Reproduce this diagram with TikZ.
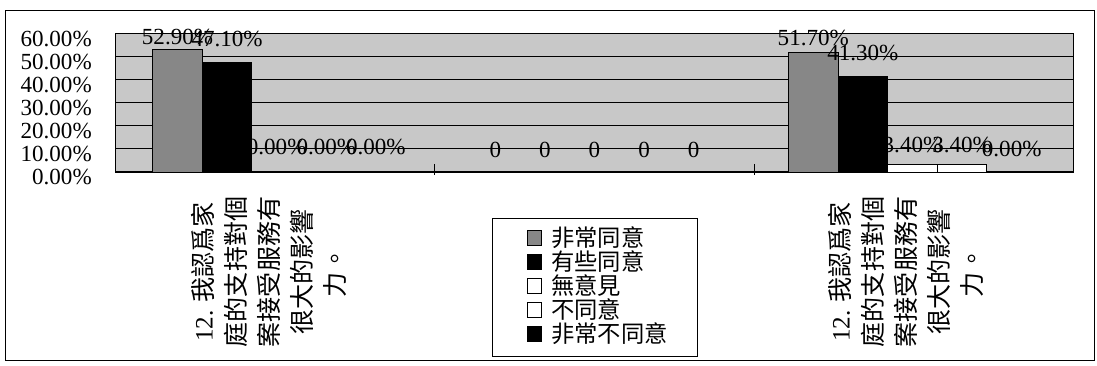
\documentclass[tikz,border=0pt]{standalone}
\usepackage{fontspec}
\setmainfont{Liberation Serif}
\newfontfamily\cjk{Noto Sans CJK TC}
\definecolor{plotbg}{RGB}{200,200,200}
\definecolor{barone}{RGB}{135,135,135}
\begin{document}
\begin{tikzpicture}[x=0.75pt,y=-0.75pt,
  num/.style={font=\fontsize{17.3pt}{17.3pt}\selectfont, inner sep=0pt, anchor=base},
  ylab/.style={num, anchor=base east},
  catlab/.style={font=\cjk\fontsize{18.8pt}{24.75pt}\selectfont, rotate=90, align=center, inner sep=0pt},
  legtext/.style={font=\cjk\fontsize{17.5pt}{17.5pt}\selectfont, inner sep=0pt, anchor=west},
  sw/.style={draw=black, line width=0.6pt, minimum size=11pt, inner sep=0pt},
  grid line/.style={draw=black, line width=0.6pt},
  bar/.style={draw=black, line width=0.7pt}
]
\useasboundingbox (0,0) rectangle (1097,366);
% outer frame
\draw[line width=0.7pt] (5,10) rectangle (1094,360);
% plot area
\fill[plotbg] (115,33) rectangle (1073,172);
\foreach \v in {10,20,30,40,50}
  \draw[grid line] (115,{172-2.3167*\v}) -- (1073,{172-2.3167*\v});
\draw[line width=0.6pt] (115,33) rectangle (1073,172);
\draw[line width=1pt] (115,172) -- (1073,172);
\coordinate (t1a) at (434.3,164); \coordinate (t1b) at (434.3,175);
\coordinate (t2a) at (754.7,164); \coordinate (t2b) at (754.7,175);
\draw[line width=0.7pt] (t1a) -- (t1b);
\draw[line width=0.7pt] (t2a) -- (t2b);
% y axis labels
\foreach \v/\t [count=\i from 0] in {60/60.00\%,50/50.00\%,40/40.00\%,30/30.00\%,20/20.00\%,10/10.00\%,0/0.00\%}
  \node[ylab] (y\i) at (92,{47+23.0*\i}) {\t};
% group 1 bars
\draw[bar, fill=barone] (152.7,172) rectangle (202.3,49.4);
\draw[bar, fill=black] (202.3,172) rectangle (251.9,62.9);
% group 3 bars
\draw[bar, fill=barone] (788.5,172) rectangle (838.1,52.2);
\draw[bar, fill=black] (838.1,172) rectangle (887.7,76.3);
\draw[bar, fill=white] (887.7,172) rectangle (937.3,164.1);
\draw[bar, fill=white] (937.3,172) rectangle (986.9,164.1);
% data labels group 1
\node[num] (a1) at (177.5,45) {52.90\%};
\node[num] (a2) at (227.1,47) {47.10\%};
\node[num] (a3) at (276.7,155) {0.00\%};
\node[num] (a4) at (326.3,155) {0.00\%};
\node[num] (a5) at (375.9,155) {0.00\%};
% data labels group 2
\node[num] (b1) at (495.3,158) {0};
\node[num] (b2) at (544.9,158) {0};
\node[num] (b3) at (594.5,158) {0};
\node[num] (b4) at (644.1,158) {0};
\node[num] (b5) at (693.7,158) {0};
% data labels group 3
\node[num] (c1) at (813.3,46) {51.70\%};
\node[num] (c2) at (862.9,61) {41.30\%};
\node[num] (c3) at (912.5,153) {3.40\%};
\node[num] (c4) at (962.1,153) {3.40\%};
\node[num] (c5) at (1011.7,157) {0.00\%};
% category labels
\node[catlab] (cat1) at (269,272) {{\rmfamily 12. }我認爲家\\庭的支持對個\\案接受服務有\\很大的影響\\力。};
\node[catlab] (cat3) at (906,272) {{\rmfamily 12. }我認爲家\\庭的支持對個\\案接受服務有\\很大的影響\\力。};
% legend
\draw[line width=0.6pt] (492,218) rectangle (697,356);
\node[sw, fill=barone] (s1) at (534.5,238) {};
\node[sw, fill=black] (s2) at (534.5,262) {};
\node[sw, fill=white] (s3) at (534.5,286) {};
\node[sw, fill=white] (s4) at (534.5,310) {};
\node[sw, fill=black] (s5) at (534.5,334) {};
\node[legtext] (l1) at (551,238) {非常同意};
\node[legtext] (l2) at (551,262) {有些同意};
\node[legtext] (l3) at (551,286) {無意見};
\node[legtext] (l4) at (551,310) {不同意};
\node[legtext] (l5) at (551,334) {非常不同意};
\end{tikzpicture}
\end{document}
